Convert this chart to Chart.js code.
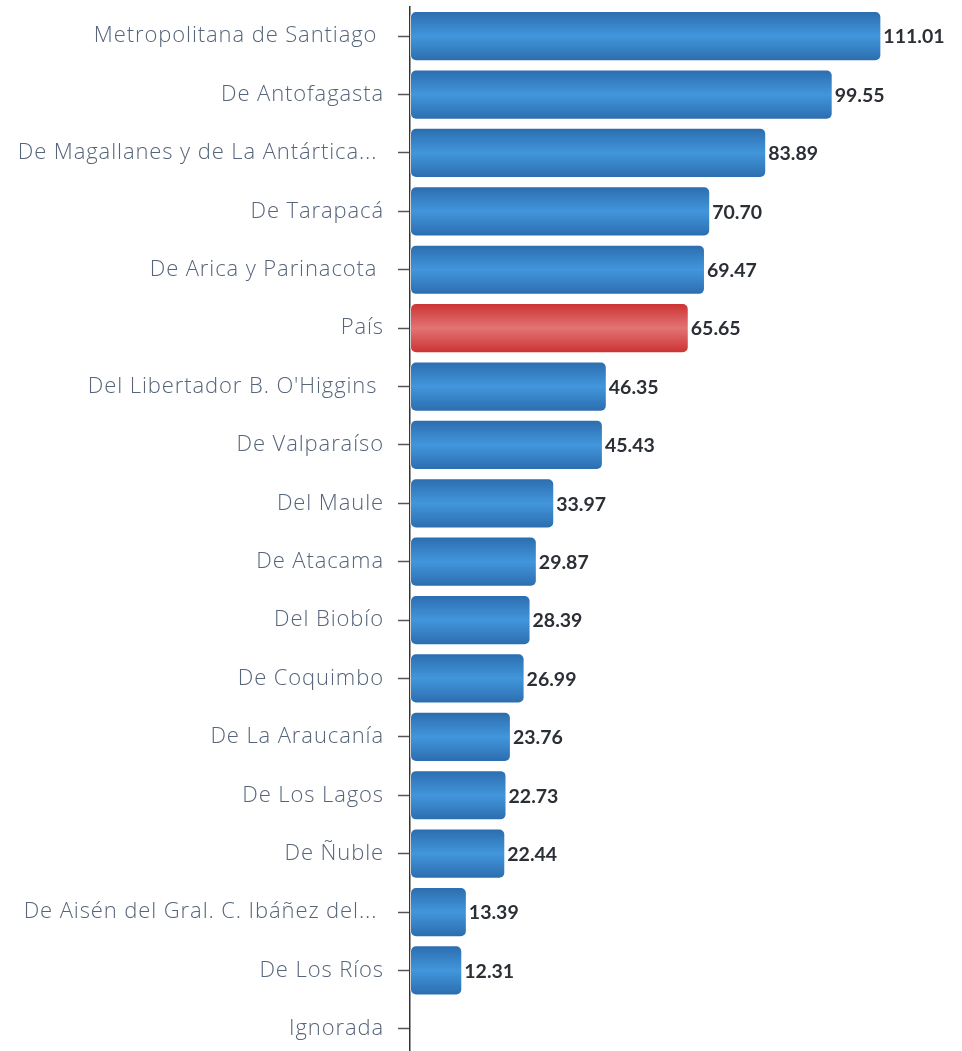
<!DOCTYPE html>
<html>
<head>
<meta charset="utf-8">
<script src="https://cdn.jsdelivr.net/npm/chart.js@4.4.1/dist/chart.umd.min.js"></script>
<style>
html,body{margin:0;padding:0;background:#fff;overflow:hidden;}
#wrap{width:962px;height:1058px;position:relative;}
</style>
</head>
<body>
<div id="wrap"><canvas id="c"></canvas></div>
<script>
const categories = [
  "Metropolitana de Santiago ",
  "De Antofagasta",
  "De Magallanes y de La Antártica... ",
  "De Tarapacá",
  "De Arica y Parinacota ",
  "País",
  "Del Libertador B. O'Higgins ",
  "De Valparaíso",
  "Del Maule",
  "De Atacama",
  "Del Biobío",
  "De Coquimbo",
  "De La Araucanía",
  "De Los Lagos",
  "De Ñuble",
  "De Aisén del Gral. C. Ibáñez del... ",
  "De Los Ríos",
  "Ignorada"
];
const values = [111.01, 99.55, 83.89, 70.70, 69.47, 65.65, 46.35, 45.43, 33.97, 29.87, 28.39, 26.99, 23.76, 22.73, 22.44, 13.39, 12.31, null];
const highlight = "País";

const BAR_FRAC = 0.86;

function barGradient(ctx) {
  const chart = ctx.chart;
  const ys = chart.scales && chart.scales.y;
  const isRed = categories[ctx.dataIndex] === highlight;
  const edge = isRed ? '#cc3131' : '#2b6cad';
  const mid = isRed ? '#e27474' : '#4296dc';
  if (!ys || !chart.chartArea) return edge;
  const c = ys.getPixelForValue(ctx.dataIndex);
  const band = chart.chartArea.height / categories.length;
  const h = band * BAR_FRAC;
  const g = chart.ctx.createLinearGradient(0, c - h / 2, 0, c + h / 2);
  g.addColorStop(0, edge);
  g.addColorStop(0.5, mid);
  g.addColorStop(1, edge);
  return g;
}

const spacing = {
  id: 'spacing',
  beforeDraw(chart) { chart.ctx.letterSpacing = '0.9px'; },
  beforeDatasetsDraw(chart) { chart.ctx.letterSpacing = '0px'; }
};

const valueLabels = {
  id: 'valueLabels',
  afterDatasetsDraw(chart) {
    const ctx = chart.ctx;
    const meta = chart.getDatasetMeta(0);
    ctx.save();
    ctx.letterSpacing = '0px';
    ctx.font = 'bold 19.5px Lato, "Open Sans", sans-serif';
    ctx.fillStyle = '#2b2f36';
    ctx.textAlign = 'left';
    ctx.textBaseline = 'middle';
    meta.data.forEach((el, i) => {
      const v = values[i];
      if (v === null || v === undefined) return;
      ctx.fillText(v.toFixed(2), el.x + 2, el.y + 1);
    });
    ctx.restore();
  }
};

new Chart(document.getElementById('c'), {
  type: 'bar',
  data: {
    labels: categories,
    datasets: [{
      data: values,
      backgroundColor: barGradient,
      borderColor: 'rgba(255,255,255,0.55)',
      borderWidth: 1,
      borderRadius: 6,
      borderSkipped: false,
      barPercentage: BAR_FRAC,
      categoryPercentage: 1.0
    }]
  },
  options: {
    indexAxis: 'y',
    responsive: true,
    maintainAspectRatio: false,
    animation: false,
    layout: { padding: { top: 7, left: 0, right: 0, bottom: 0 } },
    plugins: { legend: { display: false }, tooltip: { enabled: false } },
    scales: {
      x: {
        display: false,
        min: 0,
        max: 130
      },
      y: {
        afterFit(s) { s.width = 410; s.paddingTop = 0; s.paddingBottom = 0; },
        grid: {
          display: true,
          offset: false,
          drawOnChartArea: false,
          drawTicks: true,
          tickLength: 12,
          tickColor: '#555',
          tickWidth: 1.5
        },
        border: { display: true, color: '#333', width: 1.5 },
        ticks: {
          padding: 14,
          color: '#56657a',
          font: { family: '"Open Sans", Lato, sans-serif', size: 22, weight: '300' },
          autoSkip: false
        }
      }
    }
  },
  plugins: [spacing, valueLabels]
});
</script>
</body>
</html>
